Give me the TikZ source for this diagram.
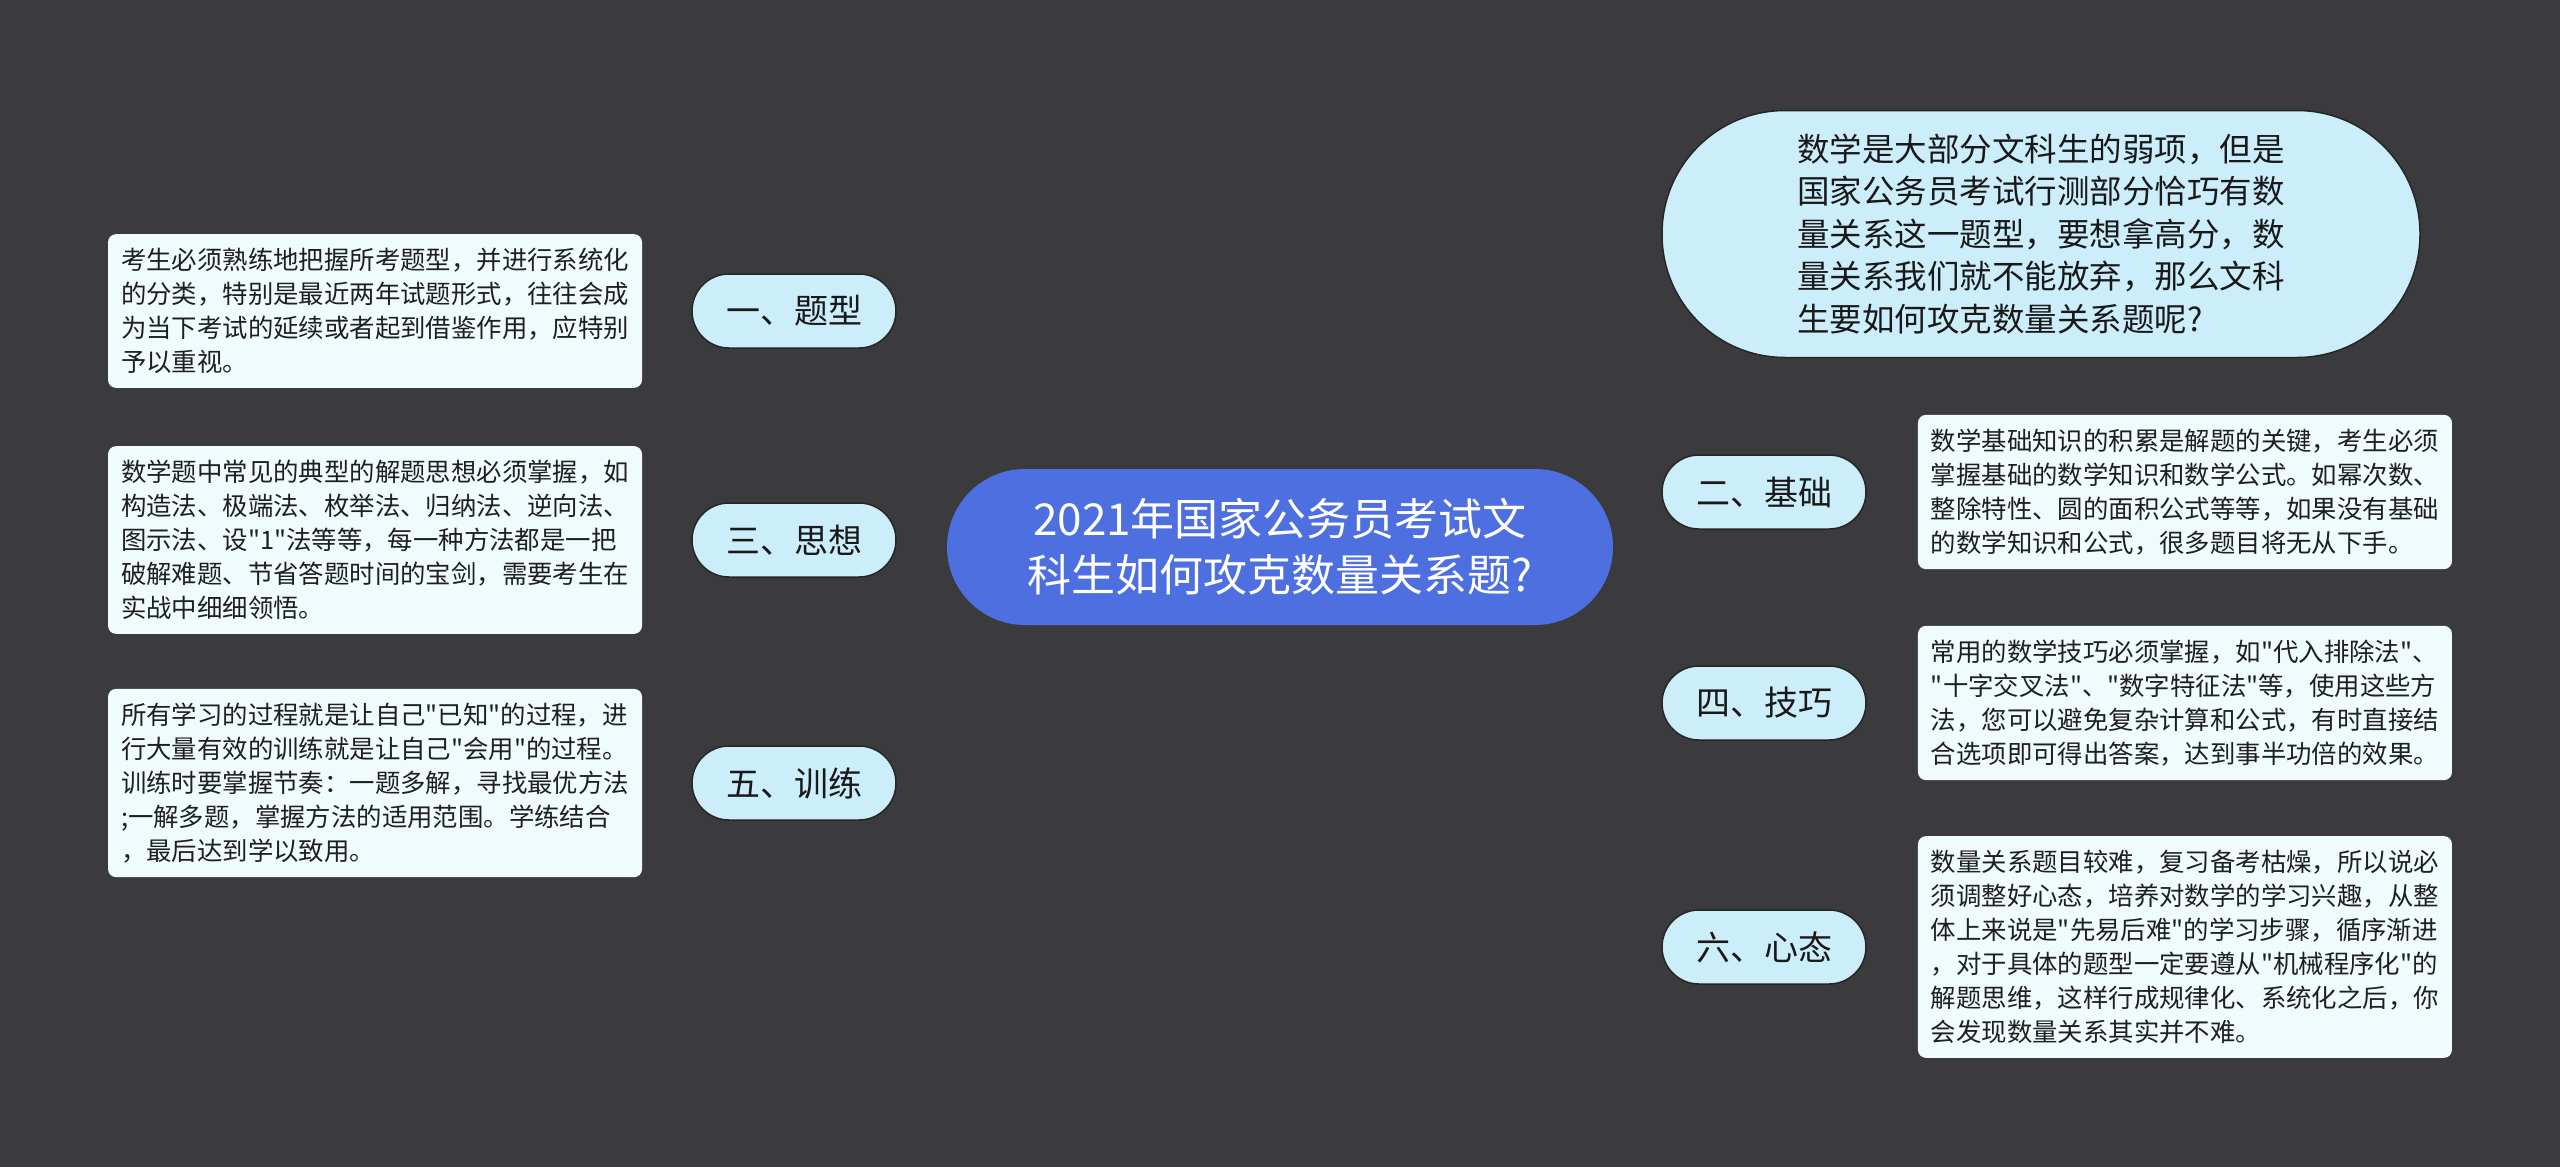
\documentclass[tikz,border=0pt]{standalone}
\usepackage{fontspec}
\setmainfont{Noto Sans CJK SC}[Ligatures=TeXOff]
\usetikzlibrary{positioning}

\definecolor{bgdark}{HTML}{3B3A3D}
\definecolor{rootblue}{HTML}{4E6FE0}
\definecolor{linkblue}{HTML}{4B6BDA}
\definecolor{topicfill}{HTML}{CCEEFB}
\definecolor{notefill}{HTML}{F0FBFE}

\pgfdeclarelayer{background}
\pgfsetlayers{background,main}

\tikzset{
  root/.style={fill=rootblue, text=white, rounded corners=78pt, minimum width=666pt, minimum height=156pt, align=center, font=\fontsize{44}{56}\selectfont},
  topic/.style={fill=topicfill, draw=black!85, line width=1.5pt, rounded corners=37pt, minimum width=204pt, minimum height=74pt, text=black!90, font=\fontsize{34}{40}\selectfont},
  intro/.style={fill=topicfill, draw=black!85, line width=1.5pt, rounded corners=123pt, minimum width=758pt, minimum height=247pt, align=left, text=black!90, font=\fontsize{32.5}{42.5}\selectfont},
  note/.style={fill=notefill, rounded corners=8pt, minimum width=534pt, inner xsep=13pt, inner ysep=14pt, align=left, text=black!88, font=\fontsize{25.4}{34}\selectfont},
  link/.style={draw=linkblue, line width=3pt},
}

\begin{document}
\begin{tikzpicture}[x=1pt,y=-1pt]
	\fill[bgdark] (0,0) rectangle (2560,1167);
	\useasboundingbox (0,0) rectangle (2560,1167);

	% centre and topics
	\node[root] (center) at (1280,547) {2021年国家公务员考试文\\科生如何攻克数量关系题?};
	\node[intro] (intro) at (2041,234) {数学是大部分文科生的弱项，但是\\国家公务员考试行测部分恰巧有数\\量关系这一题型，要想拿高分，数\\量关系我们就不能放弃，那么文科\\生要如何攻克数量关系题呢?};

	\node[topic] (tixing) at (794,311) {一、题型};
	\node[topic] (sixiang) at (794,540) {三、思想};
	\node[topic] (xunlian) at (794,783) {五、训练};
	\node[topic] (jichu) at (1764,492) {二、基础};
	\node[topic] (jiqiao) at (1764,703) {四、技巧};
	\node[topic] (xintai) at (1764,947) {六、心态};

	% notes
	\node[note, left=49pt of tixing] (tixingnote) {考生必须熟练地把握所考题型，并进行系统化\\的分类，特别是最近两年试题形式，往往会成\\为当下考试的延续或者起到借鉴作用，应特别\\予以重视。};
	\node[note, left=49pt of sixiang] (sixiangnote) {数学题中常见的典型的解题思想必须掌握，如\\构造法、极端法、枚举法、归纳法、逆向法、\\图示法、设"1"法等等，每一种方法都是一把\\破解难题、节省答题时间的宝剑，需要考生在\\实战中细细领悟。};
	\node[note, left=49pt of xunlian] (xunliannote) {所有学习的过程就是让自己"已知"的过程，进\\行大量有效的训练就是让自己"会用"的过程。\\训练时要掌握节奏：一题多解，寻找最优方法\\;一解多题，掌握方法的适用范围。学练结合\\，最后达到学以致用。};
	\node[note, right=51pt of jichu] (jichunote) {数学基础知识的积累是解题的关键，考生必须\\掌握基础的数学知识和数学公式。如幂次数、\\整除特性、圆的面积公式等等，如果没有基础\\的数学知识和公式，很多题目将无从下手。};
	\node[note, right=51pt of jiqiao] (jiqiaonote) {常用的数学技巧必须掌握，如"代入排除法"、\\"十字交叉法"、"数字特征法"等，使用这些方\\法，您可以避免复杂计算和公式，有时直接结\\合选项即可得出答案，达到事半功倍的效果。};
	\node[note, right=51pt of xintai] (xintainote) {数量关系题目较难，复习备考枯燥，所以说必\\须调整好心态，培养对数学的学习兴趣，从整\\体上来说是"先易后难"的学习步骤，循序渐进\\，对于具体的题型一定要遵从"机械程序化"的\\解题思维，这样行成规律化、系统化之后，你\\会发现数量关系其实并不难。};

	% links
	\begin{pgfonlayer}{background}
		\draw[link] ([xshift=-15pt]center.north) .. controls (1250,390) and (1010,311) .. (tixing.east);
		\draw[link] ([xshift=10pt]center.north) .. controls (1300,330) and (1480,234) .. (intro.west);
		\draw[link] (sixiang.east) -- (sixiang.east -| center);
		\draw[link] ([xshift=-13pt]center.south) .. controls (1260,720) and (1120,783) .. (xunlian.east);
		\draw[link] (jichu.west) -- (jichu.west -| center);
		\draw[link] ([xshift=32pt]center.south) .. controls (1360,675) and (1500,703) .. (jiqiao.west);
		\draw[link] ([xshift=3pt]center.south) .. controls (1290,800) and (1450,947) .. (xintai.west);

		\draw[link] (tixingnote) -- (tixing);
		\draw[link] (sixiangnote) -- (sixiang);
		\draw[link] (xunliannote) -- (xunlian);
		\draw[link] (jichu) -- (jichunote);
		\draw[link] (jiqiao) -- (jiqiaonote);
		\draw[link] (xintai) -- (xintainote);
	\end{pgfonlayer}
\end{tikzpicture}
\end{document}
